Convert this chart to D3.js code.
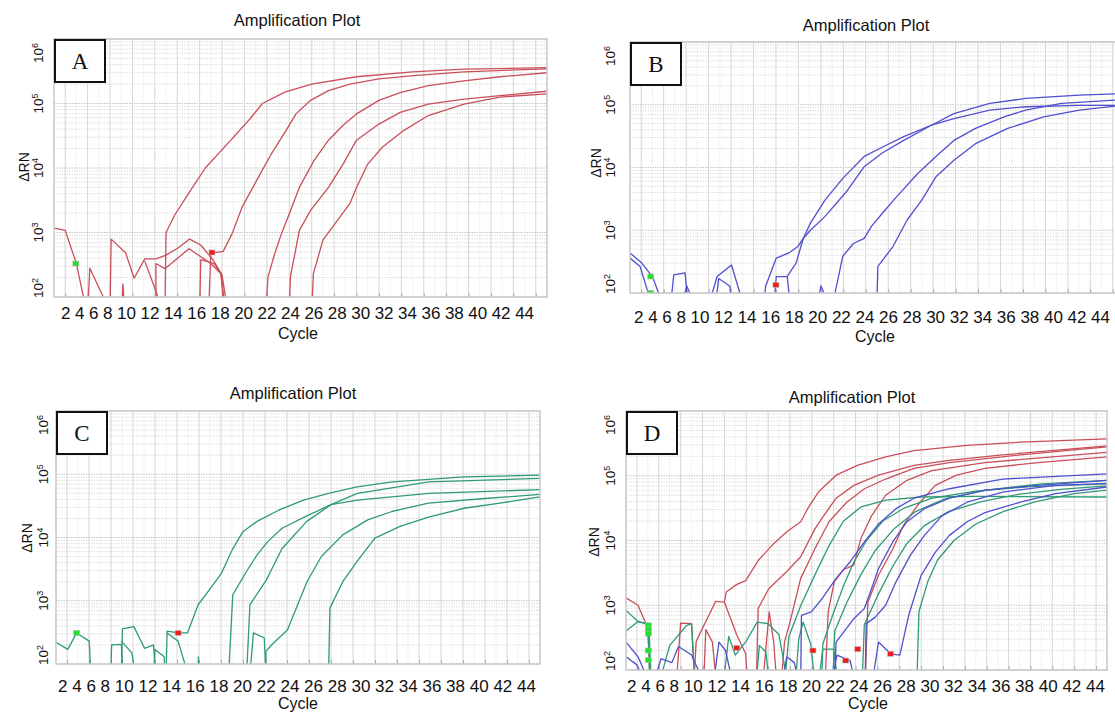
<!DOCTYPE html>
<html>
<head>
<meta charset="utf-8">
<title>Amplification Plot</title>
<script src="https://cdn.jsdelivr.net/npm/d3@7"></script>
<style>
body{margin:0;background:#fff;}
text{font-family:"Liberation Sans",Arial,sans-serif;fill:#111;}
</style>
</head>
<body>
<script>
// axis data
var cycleDomain = [1, 45];
var rnDomain = [100, 1e6];
var cycleLabels = d3.range(2, 46, 2);
var decadeExp = [2, 3, 4, 5, 6];
var panelNames = ["A", "B", "C", "D"];

// ---- panel A (red) : [cycle, dRn]
var ampA1 = [[10.9,60],[11.0,1000],[11.8,1900],[13.0,4000],[14.5,10000],[16.6,25000],[18.5,58000],[19.6,100000],[21.6,150000],[24.0,200000],[28.0,260000],[33.0,310000],[37.6,340000],[45,360000]];
var ampA2 = [[14.8,60],[15.0,480],[16.1,510],[16.9,960],[17.8,2500],[19.1,6500],[20.4,16600],[21.7,38000],[22.6,69000],[23.9,112000],[25.5,158000],[27.4,200000],[30.0,240000],[33.1,270000],[37.6,310000],[45,345000]];
var ampA3 = [[19.9,60],[20.1,205],[20.7,470],[21.3,960],[22.0,1950],[22.9,5000],[24.2,13000],[25.5,27000],[26.8,46000],[28.0,69000],[30.0,112000],[31.9,148000],[34.4,190000],[37.6,225000],[40.8,260000],[45,300000]];
var ampA4 = [[22.0,60],[22.1,205],[22.9,1080],[23.9,2200],[25.5,5000],[26.8,11500],[28.0,27000],[30.0,48000],[31.9,73000],[34.4,98000],[37.6,117000],[40.8,132000],[45,155000]];
var ampA5 = [[24.0,60],[24.15,230],[25.0,760],[26.1,1380],[27.4,2800],[28.0,5000],[29.0,11500],[30.3,21000],[32.2,38000],[34.4,65000],[37.6,98000],[40.8,126000],[45,141000]];
var noiseA1 = [[1,1170],[2,1080],[3,330],[3.9,60]];
var noiseA2 = [[4.0,60],[4.2,280],[5.4,100],[5.6,60]];
var noiseA3 = [[6.0,60],[6.1,790],[7.4,480],[8.15,195],[9.1,390],[10.1,390],[11.0,445],[12.1,580],[13.1,790],[14.1,640],[15.2,375],[16.0,220],[16.5,60]];
var noiseA4 = [[7.05,60],[7.15,160],[7.3,60]];
var noiseA5 = [[10.1,60],[10.1,330],[10.9,275],[13.05,560],[15.0,330],[15.9,230],[16.3,60]];
var noiseA6 = [[14.0,60],[14.1,380],[15.3,330],[15.9,230],[16.2,60]];
var noiseA7 = [[9.1,360],[10.2,110],[10.3,60]];
var greenMarksA = [[2.95,330]];
var redMarksA = [[15.1,490]];

// ---- panel B (blue)
var ampB1 = [[12.9,60],[13.08,128],[14.03,360],[15.15,435],[15.95,550],[16.43,740],[17.07,1300],[18.35,3000],[19.95,6700],[21.86,15000],[23.46,21000],[25.38,31000],[27.93,48000],[29.85,72000],[33.04,105000],[36.24,126000],[41.03,142000],[44.8,150000]];
var ampB2 = [[13.8,60],[14.03,183],[14.99,183],[15.79,300],[16.43,740],[17.07,1000],[18.35,1650],[20.27,4100],[21.86,10300],[23.46,17000],[25.38,27000],[27.93,48000],[29.85,60000],[33.04,82000],[36.24,93000],[41.03,98000],[44.8,98000]];
var ampB3 = [[19.0,60],[19.95,385],[20.9,615],[21.86,740],[22.5,1150],[23.46,1850],[24.74,3400],[26.65,8100],[28.25,15000],[29.85,27000],[31.77,42000],[34.32,64000],[36.24,82000],[39.43,105000],[44.8,120000]];
var ampB4 = [[22.98,60],[23.08,265],[24.42,550],[25.7,1470],[26.97,3000],[28.25,7100],[29.85,13000],[31.77,24000],[34.64,42000],[37.84,64000],[41.03,82000],[44.8,98000]];
var noiseB1 = [[1,435],[2.05,300],[3.0,183],[4.0,60]];
var noiseB2 = [[1,360],[1.9,265],[3.0,60]];
var noiseB3 = [[4.6,60],[4.9,195],[5.9,210],[6.2,60]];
var noiseB4 = [[5.6,60],[6.05,130],[6.85,60]];
var noiseB5 = [[7.96,60],[8.76,183],[10.04,280],[11.16,60]];
var noiseB6 = [[8.6,60],[8.9,170],[9.9,128],[10.04,60]];
var noiseB7 = [[15.0,183],[15.3,60]];
var noiseB8 = [[17.7,60],[18.0,130],[18.8,60]];
var greenMarksB = [[2.85,183],[2.85,100]];
var redMarksB = [[14.0,135]];

// ---- panel C (green)
var ampC1 = [[11.0,60],[11.1,330],[12.14,310],[12.95,310],[13.92,865],[15.06,1580],[16.03,2700],[17.0,6300],[17.98,12300],[19.28,18000],[21.23,27000],[23.5,39000],[25.77,50000],[28.37,63000],[31.6,76000],[38.1,91000],[45,97000]];
var ampC2 = [[16.68,60],[17.07,1240],[18.31,2900],[19.28,5300],[20.25,8600],[21.55,14000],[23.8,22000],[26.0,33000],[28.4,39000],[34.9,50000],[45,57000]];
var ampC3 = [[18.31,60],[18.63,865],[20.1,2100],[21.55,6700],[23.8,18000],[26.0,33000],[28.4,50000],[34.9,76000],[45,86000]];
var ampC4 = [[20.09,60],[20.09,158],[20.58,200],[22.04,345],[22.85,765],[23.82,2000],[25.12,5000],[27.07,11000],[29.34,19000],[31.6,26000],[34.86,35000],[39.7,41000],[45,48000]];
var ampC5 = [[25.77,60],[25.9,765],[27.07,2000],[28.37,4200],[29.99,9800],[32.27,15000],[34.86,21000],[38.1,29000],[41.36,35000],[45,44000]];
var noiseC1 = [[1,220],[2.07,170],[2.88,310],[4.02,230],[4.18,60]];
var noiseC2 = [[5.97,60],[6.06,200],[6.94,205],[7.1,60]];
var noiseC3 = [[6.94,60],[7.04,360],[8.08,390],[9.05,177],[9.86,200],[10.1,60]];
var noiseC4 = [[6.94,230],[7.9,150],[8.24,60]];
var noiseC5 = [[9.86,60],[10.0,170],[10.84,130],[10.9,60]];
var noiseC6 = [[11.1,310],[12.1,230],[13.1,60]];
var noiseC7 = [[13.9,60],[13.95,130],[14.0,60]];
var noiseC8 = [[18.6,60],[18.95,310],[19.93,260],[20.1,60]];
var greenMarksC = [[2.88,310]];
var redMarksC = [[12.1,310]];

// ---- panel D (all three)
var ampDR1 = [[7.2,60],[7.42,277],[9.2,1150],[10.0,1120],[10.17,1600],[11.14,2100],[11.95,2400],[13.09,4900],[14.38,8500],[15.68,13500],[16.98,19500],[17.62,31000],[18.6,56000],[20.22,102000],[22.16,145000],[24.75,195000],[27.34,245000],[32.2,295000],[37.07,330000],[45,370000]];
var ampDR2 = [[12.92,60],[13.09,890],[14.06,1800],[15.68,3300],[16.98,5600],[18.27,15000],[18.92,22000],[20.22,45000],[21.84,71000],[24.1,102000],[27.34,145000],[30.58,173000],[35.45,210000],[45,290000]];
var ampDR3 = [[15.2,60],[15.5,270],[16.0,550],[16.98,2600],[18.27,7400],[19.57,19500],[21.19,39000],[22.81,63000],[24.75,89000],[27.34,130000],[30.58,160000],[37.07,210000],[45,280000]];
var ampDR4 = [[19.2,60],[19.5,800],[20.05,2300],[20.86,3500],[21.84,4200],[22.48,10700],[23.46,24000],[24.75,50000],[26.7,85000],[28.97,120000],[33.83,160000],[45,230000]];
var ampDR5 = [[22.87,60],[23.13,1120],[24.1,2900],[25.4,7400],[26.37,17000],[27.67,35000],[29.29,71000],[31.23,102000],[33.83,130000],[38.69,160000],[45,195000]];
var ampDG1 = [[15.5,60],[15.9,330],[17.0,1000],[18.3,3000],[19.6,8500],[20.9,20000],[22.5,33000],[24.8,42000],[28.0,47000],[33.0,48000],[45,47000]];
var ampDG2 = [[18.9,60],[19.0,250],[19.9,700],[20.9,2000],[21.8,4500],[23.0,10000],[24.5,20000],[26.5,32000],[29.0,45000],[33.0,58000],[38.0,68000],[45,75000]];
var ampDG3 = [[19.9,60],[20.1,400],[21.2,1100],[22.5,3000],[23.8,7000],[25.5,15000],[27.5,28000],[30.0,43000],[34.0,60000],[39.0,75000],[45,85000]];
var ampDG4 = [[22.6,60],[22.8,500],[24.1,1500],[25.4,4000],[26.7,9000],[28.3,17000],[30.5,28000],[33.5,40000],[37.0,52000],[41.0,62000],[45,70000]];
var ampDG5 = [[27.6,60],[27.8,800],[28.6,2300],[29.5,5000],[31.0,10000],[33.0,18000],[35.5,28000],[38.5,40000],[42.0,53000],[45,60000]];
var ampDB1 = [[16.98,60],[17.05,700],[17.95,790],[18.92,1250],[20.22,2600],[21.51,4700],[22.81,9500],[24.1,18000],[25.7,31000],[27.34,45000],[30.58,63000],[35.45,89000],[45,107000]];
var ampDB2 = [[20.05,60],[20.22,270],[21.84,620],[22.81,890],[23.46,1800],[24.1,3700],[25.4,9500],[26.7,19500],[28.3,31000],[30.58,45000],[33.83,60000],[38.69,71000],[45,85000]];
var ampDB3 = [[22.87,60],[22.97,520],[23.78,650],[24.75,1000],[25.7,2300],[27.0,5900],[28.3,12000],[29.9,24000],[32.2,39000],[35.45,56000],[40.3,71000],[45,76000]];
var ampDB4 = [[23.5,60],[24.1,270],[25.2,178],[26.05,170],[26.86,700],[28.0,2900],[29.3,6600],[30.58,12000],[32.2,19500],[33.83,27000],[37.07,39000],[40.3,53000],[45,67000]];
var noiseDR1 = [[1,1300],[2.1,1000],[3.0,440],[3.2,60]];
var noiseDR2 = [[5.6,60],[6.0,530],[7.0,520],[7.3,60]];
var noiseDR3 = [[8.1,60],[8.3,420],[8.9,270],[9.3,60]];
var noiseDR4 = [[10.0,1120],[11.14,345],[11.95,178],[12.1,60]];
var noiseDR5 = [[13.5,60],[14.1,790],[14.5,280],[14.8,60]];
var noiseDG1 = [[1,830],[2.1,560],[3.1,500],[3.3,60]];
var noiseDG2 = [[1,400],[2.1,560],[3.0,520],[3.2,60]];
var noiseDG3 = [[4.0,60],[5.0,240],[6.5,480],[7.0,520],[7.3,60]];
var noiseDG4 = [[9.9,60],[10.4,330],[11.0,170],[12.0,280],[13.0,550],[14.0,520],[15.0,350],[15.8,60]];
var noiseDG5 = [[12.9,60],[13.2,240],[13.8,190],[14.1,60]];
var noiseDG6 = [[16.5,60],[16.8,300],[17.2,550],[17.9,250],[18.3,60]];
var noiseDG7 = [[18.6,60],[19.0,210],[20.0,210],[20.4,60]];
var noiseDB1 = [[1,270],[2.1,160],[3.2,60]];
var noiseDB2 = [[1,160],[2.0,120],[2.8,60]];
var noiseDB3 = [[3.5,60],[4.2,150],[5.2,130],[5.8,230],[7.0,170],[8.2,60]];
var noiseDB4 = [[9.0,60],[9.5,270],[10.1,200],[10.8,60]];
var noiseDB5 = [[15.3,60],[15.7,160],[16.4,130],[16.8,60]];
var noiseDB6 = [[19.8,60],[20.3,170],[21.5,140],[22.0,60]];
var greenMarksD = [[3.04,490],[3.04,420],[3.04,365],[3.04,200],[3.04,142]];
var redMarksD = [[11.14,220],[18.1,200],[21.1,140],[22.2,210],[25.2,178]];

var colors = {red:"#c94f5a", blue:"#5050cf", green:"#2e9a77"};

// series per panel, drawn in this order
var series = {
  A: [[noiseA1,"red"],[noiseA2,"red"],[noiseA3,"red"],[noiseA4,"red"],[noiseA5,"red"],[noiseA6,"red"],[noiseA7,"red"],
      [ampA1,"red"],[ampA2,"red"],[ampA3,"red"],[ampA4,"red"],[ampA5,"red"]],
  B: [[noiseB1,"blue"],[noiseB2,"blue"],[noiseB3,"blue"],[noiseB4,"blue"],[noiseB5,"blue"],[noiseB6,"blue"],[noiseB7,"blue"],[noiseB8,"blue"],
      [ampB1,"blue"],[ampB2,"blue"],[ampB3,"blue"],[ampB4,"blue"]],
  C: [[noiseC1,"green"],[noiseC2,"green"],[noiseC3,"green"],[noiseC4,"green"],[noiseC5,"green"],[noiseC6,"green"],[noiseC7,"green"],[noiseC8,"green"],
      [ampC1,"green"],[ampC2,"green"],[ampC3,"green"],[ampC4,"green"],[ampC5,"green"]],
  D: [[noiseDR1,"red"],[noiseDR2,"red"],[noiseDR3,"red"],[noiseDR4,"red"],[noiseDR5,"red"],
      [ampDR1,"red"],[ampDR2,"red"],[ampDR3,"red"],[ampDR4,"red"],[ampDR5,"red"],
      [noiseDG1,"green"],[noiseDG2,"green"],[noiseDG3,"green"],[noiseDG4,"green"],[noiseDG5,"green"],[noiseDG6,"green"],[noiseDG7,"green"],
      [ampDG1,"green"],[ampDG2,"green"],[ampDG3,"green"],[ampDG4,"green"],[ampDG5,"green"],
      [noiseDB1,"blue"],[noiseDB2,"blue"],[noiseDB3,"blue"],[noiseDB4,"blue"],[noiseDB5,"blue"],[noiseDB6,"blue"],
      [ampDB1,"blue"],[ampDB2,"blue"],[ampDB3,"blue"],[ampDB4,"blue"]]
};
var marks = {
  A: {green: greenMarksA, red: redMarksA},
  B: {green: greenMarksB, red: redMarksB},
  C: {green: greenMarksC, red: redMarksC},
  D: {green: greenMarksD, red: redMarksD}
};

// where each pasted panel sits on the page
var layout = {
  A:{left:54, top:39, w:493, h:258, titleX:297, titleY:20, labX:61, labW:473, labY:313, cycX:298, cycY:333, yLabX:38, rnX:24, rnY:167},
  B:{left:630, top:42, w:494, h:251, titleX:866, titleY:25, labX:634, labW:476, labY:317, cycX:875, cycY:336, yLabX:610, rnX:596, rnY:163},
  C:{left:56, top:411, w:484, h:253, titleX:293, titleY:393, labX:58, labW:478, labY:686, cycX:298, cycY:703, yLabX:43, rnX:27, rnY:538},
  D:{left:626, top:411, w:481, h:259, titleX:852, titleY:397, labX:627, labW:478, labY:686, cycX:868, cycY:703, yLabX:610, rnX:594, rnY:542}
};

var svg = d3.select("body").append("svg")
  .attr("width", 1115)
  .attr("height", 713);
var defs = svg.append("defs");

function drawPanel(key) {
  var L = layout[key];
  var bottom = L.top + L.h, right = L.left + L.w;
  var x = d3.scaleLinear().domain(cycleDomain).range([L.left, right]);
  var y = d3.scaleLog().domain(rnDomain).range([bottom, L.top]);
  var g = svg.append("g").attr("class", "panel" + key);

  g.append("rect")
    .attr("x", L.left).attr("y", L.top).attr("width", L.w).attr("height", L.h)
    .attr("fill", "#fff");

  // grid: fine dotted lines for every log step and every cycle
  var isDecade = function(d) { return Math.abs(Math.log10(d) - Math.round(Math.log10(d))) < 1e-6; };
  g.append("g").selectAll("line").data(y.ticks()).join("line")
    .attr("x1", L.left).attr("x2", right)
    .attr("y1", function(d) { return y(d); }).attr("y2", function(d) { return y(d); })
    .attr("stroke", function(d) { return isDecade(d) ? "#c4c4c4" : "#dedede"; })
    .attr("stroke-width", 1)
    .attr("stroke-dasharray", "1.5,1");
  g.append("g").selectAll("line").data(d3.range(1, 46)).join("line")
    .attr("x1", function(d) { return x(d); }).attr("x2", function(d) { return x(d); })
    .attr("y1", L.top).attr("y2", bottom)
    .attr("stroke", function(d) { return d % 2 === 0 ? "#d6d6d6" : "#e9e9e9"; })
    .attr("stroke-dasharray", function(d) { return d % 2 === 0 ? null : "1.5,1"; });

  // tick marks on the cycle axis
  g.append("g")
    .attr("transform", "translate(0," + bottom + ")")
    .call(d3.axisBottom(x).tickValues(cycleLabels).tickSize(-4).tickFormat(""))
    .call(function(a) {
      a.select(".domain").remove();
      a.selectAll("line").attr("stroke", "#aaa");
    });

  defs.append("clipPath").attr("id", "clip" + key)
    .append("rect").attr("x", L.left).attr("y", L.top).attr("width", L.w).attr("height", L.h);

  var line = d3.line()
    .x(function(d) { return x(d[0]); })
    .y(function(d) { return y(d[1]); });

  g.append("g").attr("clip-path", "url(#clip" + key + ")")
    .selectAll("path").data(series[key]).join("path")
    .attr("d", function(d) { return line(d[0]); })
    .attr("fill", "none")
    .attr("stroke", function(d) { return colors[d[1]]; })
    .attr("stroke-width", 1.3)
    .attr("stroke-linejoin", "round");

  // threshold markers
  var mk = g.append("g").attr("clip-path", "url(#clip" + key + ")");
  mk.selectAll("rect.gm").data(marks[key].green).join("rect").attr("class", "gm")
    .attr("x", function(d) { return x(d[0]) - 3; }).attr("y", function(d) { return y(d[1]) - 2.5; })
    .attr("width", 6).attr("height", 5)
    .attr("fill", "#1fe02a").attr("stroke", "#b8b8b8").attr("stroke-width", 0.6);
  mk.selectAll("rect.rm").data(marks[key].red).join("rect").attr("class", "rm")
    .attr("x", function(d) { return x(d[0]) - 3; }).attr("y", function(d) { return y(d[1]) - 2.5; })
    .attr("width", 6).attr("height", 5)
    .attr("fill", "#f01c1c").attr("stroke", "#b8b8b8").attr("stroke-width", 0.6);

  // plot frame
  g.append("rect")
    .attr("x", L.left).attr("y", L.top).attr("width", L.w).attr("height", L.h)
    .attr("fill", "none").attr("stroke", "#c9c9c9").attr("stroke-width", 1.5);

  // panel letter box
  g.append("rect")
    .attr("x", L.left + 1).attr("y", L.top + 1).attr("width", 50).attr("height", 42)
    .attr("fill", "#fff").attr("stroke", "#111").attr("stroke-width", 2);
  g.append("text")
    .attr("x", L.left + 26).attr("y", L.top + 22).attr("dy", "0.35em")
    .attr("text-anchor", "middle")
    .style("font-family", "'Liberation Serif','Times New Roman',serif")
    .style("font-size", "23px")
    .text(key);

  // title
  g.append("text")
    .attr("x", L.titleX).attr("y", L.titleY).attr("dy", "0.35em")
    .attr("text-anchor", "middle").style("font-size", "16.5px")
    .text("Amplification Plot");

  // cycle labels, set as one spaced row like the original software export
  g.append("text")
    .attr("x", L.labX).attr("y", L.labY).attr("dy", "0.35em")
    .attr("textLength", L.labW).attr("lengthAdjust", "spacing")
    .style("font-size", "17px")
    .text(cycleLabels.join(" "));

  g.append("text")
    .attr("x", L.cycX).attr("y", L.cycY).attr("dy", "0.35em")
    .attr("text-anchor", "middle").style("font-size", "16px")
    .text("Cycle");

  // log labels 10^n, rotated, kept inside the plot height
  g.append("g").selectAll("text").data(decadeExp).join("text")
    .attr("transform", function(d) {
      var yy = Math.max(L.top + 14, Math.min(bottom - 9, y(Math.pow(10, d))));
      return "translate(" + L.yLabX + "," + yy + ") rotate(-90)";
    })
    .attr("text-anchor", "middle")
    .attr("dy", "0.35em")
    .style("font-size", "13.5px")
    .each(function(d) {
      var t = d3.select(this);
      t.append("tspan").text("10");
      t.append("tspan").attr("dy", "-0.5em").style("font-size", "9px").text(d);
    });

  g.append("text")
    .attr("transform", "translate(" + L.rnX + "," + L.rnY + ") rotate(-90)")
    .attr("text-anchor", "middle").attr("dy", "0.35em")
    .style("font-size", "14px")
    .text("\u0394RN");
}

panelNames.forEach(drawPanel);
</script>
</body>
</html>
